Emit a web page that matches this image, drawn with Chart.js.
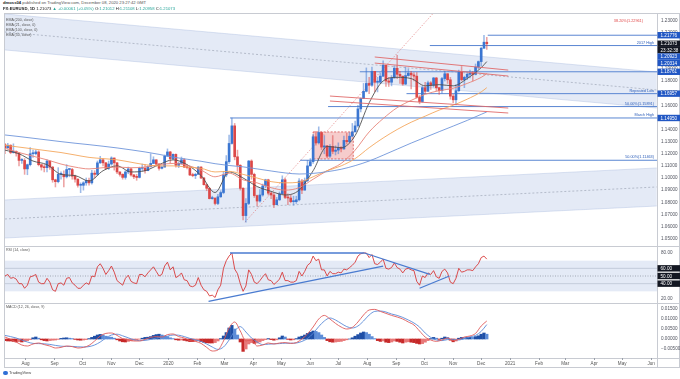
<!DOCTYPE html>
<html>
<head>
<meta charset="utf-8">
<title>EURUSD 1D</title>
<script src="https://cdn.jsdelivr.net/npm/chart.js@4.4.1/dist/chart.umd.min.js"></script>
<style>
html, body { margin: 0; padding: 0; background: #fff; }
body { position: relative; width: 680px; height: 379px; overflow: hidden; font-family: "Liberation Sans", Arial, sans-serif; }
canvas { position: absolute; left: 0; }
.txt { position: absolute; white-space: nowrap; line-height: 1; }
.ln { position: absolute; background: #c8cbd2; }
</style>
</head>
<body>
<div class="ln" style="left:4px;top:13px;width:676px;height:1px"></div>
<div class="ln" style="left:4px;top:13px;width:1px;height:355px"></div>
<div class="ln" style="left:4px;top:367px;width:676px;height:1px"></div>
<div class="ln" style="left:679px;top:13px;width:1px;height:355px"></div>
<div class="ln" style="left:5px;top:246px;width:675px;height:1px"></div>
<div class="ln" style="left:5px;top:303px;width:675px;height:1px"></div>
<div class="ln" style="left:5px;top:358px;width:675px;height:1px"></div>
<div class="ln" style="left:657px;top:14px;width:1px;height:353px"></div>

<canvas id="priceChart" width="680" height="232" style="top:14px"></canvas>
<canvas id="rsiChart" width="680" height="56" style="top:247px"></canvas>
<canvas id="macdChart" width="680" height="63" style="top:304px"></canvas>

<div class="txt" style="left:3px;top:1px;font-size:4.2px;color:#555"><b style="color:#222">dmoss04</b> published on TradingView.com, December 08, 2020 23:27:42 GMT</div>
<div class="txt" style="left:3px;top:7px;font-size:4.2px;color:#222"><b>FX:EURUSD, 1D</b> 1.21073 <span style="color:#26a69a">▲ +0.00061 (+0.05%)</span> O:<span style="color:#26a69a">1.21012</span> H:<span style="color:#26a69a">1.21108</span> L:<span style="color:#26a69a">1.20958</span> C:<span style="color:#26a69a">1.21073</span></div>
<div class="txt" style="left:6px;top:19px;font-size:3.6px;color:#555">EMA (200, close)</div>
<div class="txt" style="left:6px;top:24px;font-size:3.6px;color:#555">EMA (21, close, 0)</div>
<div class="txt" style="left:6px;top:29px;font-size:3.6px;color:#555">EMA (100, close, 0)</div>
<div class="txt" style="left:6px;top:34px;font-size:3.6px;color:#555">EMA (50, close)</div>
<div class="txt" style="left:6px;top:249px;font-size:3.6px;color:#555">RSI (14, close)</div>
<div class="txt" style="left:6px;top:306px;font-size:3.6px;color:#555">MACD (12, 26, close, 9)</div>
<div class="txt" style="left:3px;top:371px;font-size:4px;color:#444"><span style="display:inline-block;width:5px;height:4px;background:#2f6fd6;border-radius:2px;vertical-align:middle"></span> TradingView</div>

<script>
const FONT = '"Liberation Sans", Arial, sans-serif';

// time base: one unit on the x axis = one calendar day from Jul 10 2019
const startDay = Date.UTC(2019, 6, 10);
const dayOf = s => (Date.parse(s + 'T00:00:00Z') - startDay) / 86400000;
const candleStep = 3;   // days between candles
const macdStep = 6;     // days between MACD line points
const xMin = 0, xMax = 698.3;

const monthDates = ['2019-08-01','2019-09-01','2019-10-01','2019-11-01','2019-12-01','2020-01-01','2020-02-01','2020-03-01','2020-04-01','2020-05-01','2020-06-01','2020-07-01','2020-08-01','2020-09-01','2020-10-01','2020-11-01','2020-12-01','2021-01-01','2021-02-01','2021-03-01','2021-04-01','2021-05-01','2021-06-01'];
const monthLabels = ['Aug','Sep','Oct','Nov','Dec','2020','Feb','Mar','Apr','May','Jun','Jul','Aug','Sep','Oct','Nov','Dec','2021','Feb','Mar','Apr','May','Jun'];
const monthDays = monthDates.map(dayOf);

// EUR/USD candles
const firstOpen = 1.1275;
const closes = [1.1250,1.1270,1.1210,1.1220,1.1205,1.1145,1.1145,1.1075,1.1110,1.1200,
 1.1200,1.1215,1.1110,1.1090,1.1085,1.1140,1.1090,1.0985,1.0970,1.1030,
 1.1030,1.1010,1.1070,1.1070,1.1015,1.0990,1.0940,1.0940,1.0960,1.0980,
 1.0960,1.1040,1.1030,1.1125,1.1150,1.1125,1.1080,1.1115,1.1165,1.1125,
 1.1050,1.1030,1.1005,1.1050,1.1075,1.1025,1.1010,1.1005,1.1080,1.1080,
 1.1060,1.1095,1.1120,1.1150,1.1115,1.1080,1.1090,1.1180,1.1215,1.1160,
 1.1195,1.1105,1.1120,1.1150,1.1090,1.1085,1.1025,1.1020,1.1030,1.1090,
 1.1000,1.0945,1.0915,1.0830,1.0835,1.0790,1.0845,1.0880,1.1025,1.1135,
 1.1285,1.1430,1.1175,1.1105,1.0915,1.0690,1.0790,1.1140,1.1030,1.0855,
 1.0810,1.0860,1.0935,1.0985,1.0875,1.0860,1.0780,1.0820,1.0870,1.0985,
 1.0840,1.0835,1.0805,1.0805,1.0820,1.0975,1.0900,1.0980,1.1100,1.1135,
 1.1340,1.1290,1.1375,1.1255,1.1265,1.1180,1.1260,1.1220,1.1230,1.1250,
 1.1240,1.1310,1.1300,1.1345,1.1380,1.1430,1.1570,1.1655,1.1715,1.1780,
 1.1765,1.1880,1.1790,1.1790,1.1840,1.1930,1.1800,1.1790,1.1825,1.1905,
 1.1855,1.1840,1.1775,1.1845,1.1865,1.1850,1.1840,1.1665,1.1630,1.1745,
 1.1715,1.1785,1.1765,1.1825,1.1745,1.1720,1.1820,1.1860,1.1810,1.1675,
 1.1645,1.1720,1.1875,1.1810,1.1830,1.1855,1.1860,1.1855,1.1915,1.1960,
 1.2070,1.2120,1.2107];
const highs = [1.1285,1.1285,1.1275,1.1282,1.1225,1.1210,1.1160,1.1160,1.1115,1.1250,
 1.1230,1.1230,1.1225,1.1110,1.1110,1.1150,1.1140,1.1095,1.0990,1.1085,
 1.1050,1.1060,1.1110,1.1075,1.1080,1.1025,1.0995,1.0960,1.0970,1.1000,
 1.1000,1.1063,1.1060,1.1140,1.1179,1.1160,1.1130,1.1140,1.1175,1.1165,
 1.1130,1.1050,1.1035,1.1060,1.1090,1.1080,1.1030,1.1030,1.1090,1.1115,
 1.1110,1.1100,1.1200,1.1175,1.1150,1.1120,1.1100,1.1190,1.1240,1.1220,
 1.1200,1.1200,1.1130,1.1173,1.1160,1.1110,1.1090,1.1040,1.1040,1.1095,
 1.1095,1.1005,1.0945,1.0920,1.0850,1.0835,1.0865,1.0895,1.1055,1.1185,
 1.1355,1.1495,1.1450,1.1230,1.1110,1.0920,1.0830,1.1145,1.1150,1.1040,
 1.0860,1.0905,1.0950,1.0990,1.0990,1.0885,1.0880,1.0840,1.0885,1.1018,
 1.1000,1.0870,1.0860,1.0850,1.0850,1.0995,1.0990,1.1000,1.1145,1.1160,
 1.1360,1.1385,1.1422,1.1380,1.1350,1.1270,1.1275,1.1350,1.1265,1.1290,
 1.1260,1.1345,1.1370,1.1375,1.1450,1.1470,1.1600,1.1660,1.1780,1.1908,
 1.1830,1.1915,1.1880,1.1830,1.1865,1.1966,1.1930,1.1830,1.1845,1.1925,
 1.2011,1.1880,1.1840,1.1915,1.1900,1.1880,1.1870,1.1870,1.1680,1.1755,
 1.1790,1.1800,1.1795,1.1830,1.1830,1.1745,1.1830,1.1880,1.1860,1.1830,
 1.1690,1.1770,1.1890,1.1920,1.1840,1.1870,1.1890,1.1880,1.1940,1.1965,
 1.2080,1.2177,1.2160];
const lows = [1.1200,1.1240,1.1200,1.1205,1.1180,1.1100,1.1120,1.1030,1.1027,1.1100,
 1.1170,1.1190,1.1100,1.1065,1.1050,1.1050,1.1070,1.0965,1.0926,1.0960,
 1.0990,1.0927,1.1000,1.1010,1.0990,1.0965,1.0925,1.0879,1.0900,1.0940,
 1.0940,1.0950,1.1000,1.1020,1.1120,1.1100,1.1070,1.1070,1.1105,1.1065,
 1.1035,1.1015,1.0990,1.0990,1.1035,1.1015,1.0995,1.0981,1.1000,1.1060,
 1.1040,1.1060,1.1090,1.1120,1.1100,1.1065,1.1075,1.1090,1.1180,1.1125,
 1.1150,1.1090,1.1085,1.1115,1.1085,1.1075,1.1020,1.1010,1.0995,1.1030,
 1.0995,1.0940,1.0895,1.0827,1.0825,1.0777,1.0780,1.0840,1.0870,1.1010,
 1.1120,1.1280,1.1150,1.1055,1.0900,1.0655,1.0636,1.0780,1.0990,1.0840,
 1.0770,1.0800,1.0850,1.0920,1.0860,1.0830,1.0755,1.0780,1.0815,1.0870,
 1.0830,1.0780,1.0795,1.0775,1.0790,1.0810,1.0870,1.0900,1.0970,1.1100,
 1.1120,1.1270,1.1280,1.1235,1.1200,1.1168,1.1170,1.1200,1.1190,1.1200,
 1.1215,1.1235,1.1280,1.1290,1.1340,1.1380,1.1420,1.1545,1.1655,1.1710,
 1.1695,1.1755,1.1710,1.1710,1.1780,1.1835,1.1755,1.1755,1.1760,1.1825,
 1.1820,1.1780,1.1765,1.1770,1.1840,1.1735,1.1800,1.1660,1.1612,1.1625,
 1.1695,1.1715,1.1730,1.1750,1.1720,1.1690,1.1700,1.1800,1.1780,1.1650,
 1.1622,1.1602,1.1710,1.1800,1.1745,1.1810,1.1825,1.1800,1.1850,1.1900,
 1.1925,1.2070,1.2060];

// moving averages, read at 15-day points
const emaDays = [0,15,30,45,60,75,90,105,120,135,150,165,180,195,210,225,240,255,270,285,300,315,330,345,360,375,390,405,420,435,450,465,480,495,510,516];
const ema200 = [1.1355,1.1342,1.1328,1.1314,1.1300,1.1287,1.1275,1.1262,1.1248,1.1232,1.1215,1.1195,1.1172,1.1155,1.1138,1.1118,1.1103,1.1092,1.1075,1.1058,1.1042,1.1033,1.1038,1.1052,1.1072,1.1102,1.1140,1.1188,1.1238,1.1288,1.1335,1.1382,1.1428,1.1475,1.1525,1.1545];
const ema100 = [1.1270,1.1255,1.1240,1.1225,1.1210,1.1190,1.1170,1.1160,1.1150,1.1130,1.1110,1.1100,1.1100,1.1090,1.1080,1.1050,1.1055,1.1030,1.1000,1.0970,1.0960,1.0965,1.1010,1.1060,1.1100,1.1160,1.1250,1.1330,1.1400,1.1460,1.1510,1.1560,1.1600,1.1650,1.1710,1.1745];
const ema50 = [1.1245,1.1210,1.1180,1.1150,1.1115,1.1090,1.1075,1.1085,1.1090,1.1085,1.1090,1.1110,1.1120,1.1105,1.1065,1.1010,1.1040,1.0985,1.0960,1.0920,1.0900,1.0920,1.0990,1.1060,1.1120,1.1230,1.1380,1.1490,1.1580,1.1640,1.1690,1.1720,1.1740,1.1780,1.1830,1.1860];
const ema21 = [1.1230,1.1200,1.1140,1.1110,1.1030,1.1020,1.0975,1.1060,1.1100,1.1050,1.1060,1.1110,1.1150,1.1110,1.1020,1.0880,1.1050,1.1000,1.0930,1.0890,1.0860,1.0900,1.1060,1.1260,1.1250,1.1350,1.1620,1.1800,1.1830,1.1820,1.1760,1.1770,1.1760,1.1820,1.1910,1.1960];

// RSI (14), one value per candle
const rsi = [50,52,47,48,46,40,40,34,38,49,
 50,52,42,40,40,47,42,32,30,40,
 41,38,47,48,41,38,34,34,38,41,
 39,50,49,62,66,60,52,57,63,55,
 44,41,38,47,51,43,41,40,52,52,
 49,54,58,62,56,50,52,63,68,58,
 62,48,50,54,45,44,37,36,38,48,
 38,32,30,24,25,22,32,38,60,70,
 76,80,59,53,40,30,37,58,52,42,
 40,44,49,53,45,44,39,42,46,55,
 44,44,42,42,44,56,50,56,64,67,
 76,70,72,58,58,50,56,53,53,55,
 54,59,58,61,64,68,76,79,80,80,
 74,78,66,65,68,72,60,59,61,67,
 61,59,54,59,60,58,57,43,38,50,
 48,54,52,57,49,47,56,59,54,42,
 40,47,60,55,56,58,58,57,62,66,
 74,76,72];

// MACD (12, 26, 9): lines every 6 days, histogram per candle
const macdLine = [0.0010,-0.0002,-0.0015,-0.0030,-0.0035,-0.0025,-0.0020,-0.0028,-0.0035,-0.0045,
 -0.0042,-0.0035,-0.0038,-0.0045,-0.0042,-0.0032,-0.0010,0.0015,0.0028,0.0030,
 0.0018,0.0002,-0.0005,-0.0010,-0.0010,-0.0002,0.0008,0.0012,0.0010,0.0022,
 0.0025,0.0012,0.0005,-0.0008,-0.0012,-0.0022,-0.0042,-0.0060,-0.0055,-0.0010,
 0.0055,0.0085,0.0040,-0.0010,-0.0005,-0.0035,-0.0030,-0.0020,-0.0025,-0.0020,
 -0.0018,-0.0022,-0.0018,0.0000,0.0025,0.0060,0.0100,0.0118,0.0100,0.0078,
 0.0060,0.0050,0.0058,0.0085,0.0120,0.0145,0.0148,0.0138,0.0128,0.0118,
 0.0110,0.0100,0.0085,0.0070,0.0040,0.0010,-0.0005,-0.0012,-0.0005,0.0005,
 -0.0008,-0.0002,0.0010,0.0015,0.0028,0.0065,0.0090];
const signalLine = [0.0018,0.0012,0.0005,-0.0005,-0.0015,-0.0022,-0.0023,-0.0024,-0.0027,-0.0032,
 -0.0036,-0.0037,-0.0037,-0.0039,-0.0040,-0.0038,-0.0030,-0.0015,0.0005,0.0020,
 0.0024,0.0016,0.0006,-0.0004,-0.0008,-0.0007,-0.0002,0.0005,0.0009,0.0014,
 0.0020,0.0019,0.0012,0.0003,-0.0005,-0.0012,-0.0025,-0.0040,-0.0052,-0.0040,
 -0.0005,0.0040,0.0062,0.0035,0.0005,-0.0015,-0.0028,-0.0026,-0.0024,-0.0023,
 -0.0021,-0.0021,-0.0020,-0.0012,0.0002,0.0028,0.0062,0.0090,0.0105,0.0095,
 0.0078,0.0062,0.0055,0.0065,0.0090,0.0120,0.0138,0.0140,0.0135,0.0125,
 0.0118,0.0108,0.0095,0.0080,0.0060,0.0030,0.0008,-0.0005,-0.0008,-0.0003,
 -0.0002,-0.0005,0.0002,0.0010,0.0018,0.0038,0.0072];
const macdHist = [-0.0008,-0.0010,-0.0010,-0.0012,-0.0015,-0.0013,-0.0015,-0.0012,-0.0008,-0.0003,
 0.0006,0.0010,0.0004,-0.0004,-0.0008,-0.0010,-0.0008,-0.0006,-0.0005,-0.0002,
 0.0003,0.0005,0.0006,0.0004,0.0002,-0.0002,-0.0005,-0.0006,-0.0005,-0.0003,
 0.0002,0.0008,0.0014,0.0020,0.0023,0.0020,0.0014,0.0010,0.0009,0.0004,
 -0.0004,-0.0010,-0.0014,-0.0015,-0.0012,-0.0009,-0.0006,-0.0004,-0.0001,0.0004,
 0.0008,0.0009,0.0012,0.0018,0.0022,0.0024,0.0020,0.0016,0.0012,0.0006,
 0.0002,-0.0004,-0.0006,-0.0005,-0.0007,-0.0010,-0.0013,-0.0013,-0.0011,-0.0008,
 -0.0013,-0.0017,-0.0019,-0.0020,-0.0020,-0.0018,-0.0010,0.0002,0.0015,0.0032,
 0.0055,0.0068,0.0050,0.0020,-0.0015,-0.0062,-0.0050,-0.0025,-0.0018,-0.0022,
 -0.0020,-0.0015,-0.0008,-0.0003,0.0002,-0.0003,-0.0006,-0.0004,0.0006,0.0015,
 0.0010,-0.0002,-0.0005,-0.0004,0.0002,0.0010,0.0014,0.0020,0.0028,0.0034,
 0.0040,0.0038,0.0032,0.0020,0.0008,-0.0008,-0.0014,-0.0016,-0.0015,-0.0013,
 -0.0012,-0.0008,-0.0004,0.0000,0.0006,0.0014,0.0022,0.0030,0.0035,0.0032,
 0.0024,0.0012,0.0002,-0.0008,-0.0012,-0.0010,-0.0016,-0.0018,-0.0015,-0.0010,
 -0.0012,-0.0016,-0.0020,-0.0016,-0.0014,-0.0016,-0.0018,-0.0022,-0.0025,-0.0023,
 -0.0016,-0.0008,0.0002,0.0008,0.0004,-0.0002,0.0004,0.0010,0.0008,-0.0006,
 -0.0014,-0.0010,0.0004,0.0008,0.0007,0.0008,0.0009,0.0008,0.0012,0.0016,
 0.0024,0.0030,0.0024];

// axis ticks
const priceTicks = [1.05,1.06,1.07,1.08,1.09,1.10,1.11,1.12,1.13,1.14,1.15,1.16,1.17,1.18,1.19,1.20,1.21,1.22,1.23];
const rsiTicks = [20, 40, 60, 80];
const macdTicks = [-0.005, 0, 0.005, 0.01, 0.015];

// drawings on the price pane (day, price)
const upperChannel = { top: [0, 1.2353, 698, 1.1874], bottom: [0, 1.2056, 698, 1.1577], mid: [0, 1.2204, 698, 1.1726] };
const lowerChannel = { top: [0, 1.0819, 698, 1.1083], bottom: [0, 1.0505, 698, 1.0769], mid: [0, 1.0662, 698, 1.0926] };
const levels = [
  { value: 1.21776, from: 517, text: '' },
  { value: 1.20923, from: 455, text: '2017 High' },
  { value: 1.18761, from: 380, text: '' },
  { value: 1.16957, from: 430, text: 'Repeated Low' },
  { value: 1.15891, from: 346, text: '50.00%(1.15891)' },
  { value: 1.14950, from: 241, text: 'March High' },
  { value: 1.11463, from: 316, text: '50.00%(1.11463)' }
];
const fibTarget = { value: 1.22961, text: '38.20%(1.22961)' };
const rangeBox = [330, 373, 1.1157, 1.1380];
const fibDiagonal = [257, 1.0636, 458, 1.2353];
const flagLines = [[396, 1.1998, 539, 1.1890], [396, 1.1948, 539, 1.1841], [348, 1.1676, 539, 1.1577], [348, 1.1635, 539, 1.1536]];
const badgeValues = [1.21776, 1.20923, 1.20314, 1.18761, 1.16957, 1.14950];
const lastPrice = 1.21073;
const countdown = '23:32:38';

// drawings on the RSI pane (day, rsi)
const rsiBand = [30, 70];
const rsiLevels = [60, 50, 40];
const rsiTrendlines = [[241, 80, 385, 80], [385, 80, 455, 52], [218, 17, 405, 63], [444, 34, 476, 50]];

const blue = '#3b76d1', red = '#dc4848';
const badgeBlue = '#2157c4', badgeBlack = '#131722';

function xScale(show) {
  return {
    type: 'linear', min: xMin, max: xMax, offset: false, display: show,
    grid: { display: show, offset: false, drawOnChartArea: false, drawTicks: true, tickLength: 2, color: '#9aa0aa' },
    border: { display: false },
    ticks: {
      autoSkip: false, maxRotation: 0, padding: 1, color: '#555',
      font: { size: 4.6, family: FONT },
      callback: v => { const k = monthDays.indexOf(v); return k >= 0 ? monthLabels[k] : ''; }
    },
    afterBuildTicks: s => { s.ticks = monthDays.map(v => ({ value: v })); },
    afterFit: s => {
      if (show) s.height = 9;
      s.paddingLeft = 0; s.paddingRight = 0;
    }
  };
}

function yScale(min, max, ticks, fmt) {
  return {
    type: 'linear', position: 'right', min: min, max: max,
    grid: { display: false, drawTicks: false }, border: { display: false },
    ticks: { autoSkip: false, padding: 4, color: '#50535e', font: { size: 4.6, family: FONT }, callback: fmt },
    afterBuildTicks: s => { s.ticks = ticks.map(v => ({ value: v })); },
    afterFit: s => { s.width = 23; s.paddingTop = 0; s.paddingBottom = 0; }
  };
}

function baseOptions(scales) {
  return {
    responsive: false, animation: false, devicePixelRatio: 1, events: [],
    layout: { padding: { left: 5, right: 0, top: 0, bottom: 0 } },
    plugins: { legend: { display: false }, tooltip: { enabled: false } },
    scales: scales
  };
}

function drawBadges(ctx, area, items) {
  const h = 6.4;
  let prev = -Infinity;
  items.sort((a, b) => a.y - b.y).forEach(it => {
    const yy = Math.max(it.y, prev + h);
    prev = yy;
    ctx.fillStyle = it.bg;
    ctx.fillRect(area.right + 0.5, yy - h / 2, 680 - area.right, h);
    ctx.fillStyle = '#fff';
    ctx.font = '4.6px ' + FONT;
    ctx.textAlign = 'left';
    ctx.textBaseline = 'middle';
    ctx.fillText(it.text, area.right + 3.5, yy + 0.3);
  });
}

function segment(ctx, x, y, s) {
  ctx.beginPath();
  ctx.moveTo(x.getPixelForValue(s[0]), y.getPixelForValue(s[1]));
  ctx.lineTo(x.getPixelForValue(s[2]), y.getPixelForValue(s[3]));
  ctx.stroke();
}

const priceDecor = {
  id: 'priceDecor',
  beforeDatasetsDraw(chart) {
    const { ctx, chartArea: a, scales: { x, y } } = chart;
    ctx.save();
    ctx.beginPath(); ctx.rect(a.left, a.top, a.right - a.left, a.bottom - a.top); ctx.clip();
    [upperChannel, lowerChannel].forEach(ch => {
      ctx.beginPath();
      ctx.moveTo(x.getPixelForValue(ch.top[0]), y.getPixelForValue(ch.top[1]));
      ctx.lineTo(x.getPixelForValue(ch.top[2]), y.getPixelForValue(ch.top[3]));
      ctx.lineTo(x.getPixelForValue(ch.bottom[2]), y.getPixelForValue(ch.bottom[3]));
      ctx.lineTo(x.getPixelForValue(ch.bottom[0]), y.getPixelForValue(ch.bottom[1]));
      ctx.closePath();
      ctx.fillStyle = 'rgba(190, 206, 234, 0.42)';
      ctx.fill();
      ctx.strokeStyle = 'rgba(150, 172, 215, 0.55)';
      ctx.lineWidth = 0.6;
      segment(ctx, x, y, ch.top);
      segment(ctx, x, y, ch.bottom);
      ctx.setLineDash([2, 2]);
      ctx.strokeStyle = 'rgba(110, 120, 140, 0.7)';
      segment(ctx, x, y, ch.mid);
      ctx.setLineDash([]);
    });
    // consolidation box
    const bx0 = x.getPixelForValue(rangeBox[0]), bx1 = x.getPixelForValue(rangeBox[1]);
    const by0 = y.getPixelForValue(rangeBox[3]), by1 = y.getPixelForValue(rangeBox[2]);
    ctx.fillStyle = 'rgba(228, 110, 110, 0.35)';
    ctx.fillRect(bx0, by0, bx1 - bx0, by1 - by0);
    ctx.setLineDash([2, 1.5]);
    ctx.strokeStyle = '#d85050';
    ctx.lineWidth = 0.8;
    ctx.strokeRect(bx0, by0, bx1 - bx0, by1 - by0);
    // fib diagonal
    ctx.setLineDash([1.5, 1.5]);
    ctx.strokeStyle = 'rgba(220, 100, 100, 0.8)';
    ctx.lineWidth = 0.7;
    segment(ctx, x, y, fibDiagonal);
    ctx.setLineDash([]);
    // horizontal levels
    ctx.strokeStyle = '#5a86d2';
    ctx.lineWidth = 1;
    levels.forEach(l => segment(ctx, x, y, [l.from, l.value, xMax, l.value]));
    ctx.restore();
  },
  afterDatasetsDraw(chart) {
    const { ctx, chartArea: a, scales: { x, y } } = chart;
    ctx.save();
    ctx.beginPath(); ctx.rect(a.left, a.top, a.right - a.left, a.bottom - a.top); ctx.clip();
    ctx.strokeStyle = '#e06a6a';
    ctx.lineWidth = 0.9;
    flagLines.forEach(s => segment(ctx, x, y, s));
    ctx.font = '3.8px ' + FONT;
    ctx.textAlign = 'right';
    ctx.textBaseline = 'bottom';
    ctx.fillStyle = '#2a5cb8';
    levels.forEach(l => { if (l.text) ctx.fillText(l.text, a.right - 3, y.getPixelForValue(l.value) - 1); });
    ctx.fillStyle = '#e04848';
    ctx.fillText(fibTarget.text, a.right - 14, y.getPixelForValue(fibTarget.value) + 2);
    ctx.restore();
  },
  afterDraw(chart) {
    const { ctx, chartArea: a, scales: { y } } = chart;
    ctx.save();
    const items = badgeValues.map(v => ({ y: y.getPixelForValue(v), bg: badgeBlue, text: v.toFixed(5) }));
    const ly = y.getPixelForValue(lastPrice);
    items.push({ y: ly, bg: badgeBlack, text: lastPrice.toFixed(5) });
    items.push({ y: ly + 0.01, bg: badgeBlack, text: countdown });
    drawBadges(ctx, a, items);
    ctx.restore();
  }
};

const rsiDecor = {
  id: 'rsiDecor',
  beforeDatasetsDraw(chart) {
    const { ctx, chartArea: a, scales: { x, y } } = chart;
    ctx.save();
    const y70 = y.getPixelForValue(rsiBand[1]), y30 = y.getPixelForValue(rsiBand[0]);
    ctx.fillStyle = 'rgba(190, 206, 234, 0.42)';
    ctx.fillRect(a.left, y70, a.right - a.left, y30 - y70);
    ctx.lineWidth = 0.7;
    rsiLevels.forEach(v => {
      ctx.strokeStyle = v === 50 ? 'rgba(110,115,130,0.8)' : 'rgba(150,160,180,0.6)';
      ctx.setLineDash(v === 50 ? [1, 1.5] : []);
      segment(ctx, x, y, [xMin, v, xMax, v]);
    });
    ctx.setLineDash([]);
    ctx.restore();
  },
  afterDatasetsDraw(chart) {
    const { ctx, chartArea: a, scales: { x, y } } = chart;
    ctx.save();
    ctx.beginPath(); ctx.rect(a.left, a.top, a.right - a.left, a.bottom - a.top); ctx.clip();
    ctx.strokeStyle = '#4a7bd0';
    ctx.lineWidth = 1.3;
    rsiTrendlines.forEach(s => segment(ctx, x, y, s));
    ctx.restore();
  },
  afterDraw(chart) {
    const { ctx, chartArea: a, scales: { y } } = chart;
    ctx.save();
    drawBadges(ctx, a, rsiLevels.map(v => ({ y: y.getPixelForValue(v), bg: badgeBlack, text: v.toFixed(2) })));
    ctx.restore();
  }
};

// price pane
const candles = closes.map((c, i) => ({ x: i * candleStep, o: i ? closes[i - 1] : firstOpen, h: highs[i], l: lows[i], c: c }));
const emaSet = (vals, color) => ({
  type: 'line', data: emaDays.map((d, i) => ({ x: d, y: vals[i] })),
  borderColor: color, borderWidth: 0.9, pointRadius: 0, cubicInterpolationMode: 'monotone', order: -1
});

new Chart(document.getElementById('priceChart'), {
  type: 'bar',
  data: {
    datasets: [
      {
        data: candles.map(k => ({ x: k.x, y: [Math.min(k.l, k.o, k.c), Math.max(k.h, k.o, k.c)] })),
        backgroundColor: candles.map(k => k.c >= k.o ? 'rgba(59,118,209,0.5)' : 'rgba(220,72,72,0.5)'),
        barThickness: 0.9, grouped: false, order: 2
      },
      {
        data: candles.map(k => ({ x: k.x, y: [k.o, k.c] })),
        backgroundColor: candles.map(k => k.c >= k.o ? blue : red),
        barThickness: 2, minBarLength: 1, grouped: false, order: 1
      },
      emaSet(ema200, '#6f95da'),
      emaSet(ema100, '#f4a75e'),
      emaSet(ema50, '#e88579'),
      emaSet(ema21, '#505050')
    ]
  },
  options: baseOptions({
    x: xScale(false),
    y: yScale(1.04392, 1.23526, priceTicks, v => v.toFixed(5))
  }),
  plugins: [priceDecor]
});

// RSI pane
new Chart(document.getElementById('rsiChart'), {
  type: 'line',
  data: {
    datasets: [{
      data: rsi.map((v, i) => ({ x: i * candleStep, y: v })),
      borderColor: '#d83a3a', borderWidth: 0.9, pointRadius: 0, tension: 0
    }]
  },
  options: baseOptions({
    x: xScale(false),
    y: yScale(14.78, 87.83, rsiTicks, v => v.toFixed(2))
  }),
  plugins: [rsiDecor]
});

// MACD pane
const histColors = macdHist.map((v, i) => {
  const p = i ? macdHist[i - 1] : 0;
  if (v >= 0) return v >= p ? '#1f4fa6' : '#5d8dd8';
  return v <= p ? '#c62828' : '#e87878';
});

new Chart(document.getElementById('macdChart'), {
  type: 'bar',
  data: {
    datasets: [
      {
        data: macdHist.map((v, i) => ({ x: i * candleStep, y: v })),
        backgroundColor: histColors, barThickness: 2.6, grouped: false, order: 3
      },
      {
        type: 'line', data: macdLine.map((v, i) => ({ x: i * macdStep, y: v })),
        borderColor: '#e05a5a', borderWidth: 0.9, pointRadius: 0, cubicInterpolationMode: 'monotone', order: 1
      },
      {
        type: 'line', data: signalLine.map((v, i) => ({ x: i * macdStep, y: v })),
        borderColor: '#5a8ad8', borderWidth: 0.9, pointRadius: 0, cubicInterpolationMode: 'monotone', order: 2
      }
    ]
  },
  options: baseOptions({
    x: xScale(true),
    y: yScale(-0.0095, 0.0175, macdTicks, v => (v < 0 ? '\u2212' : '') + Math.abs(v).toFixed(5))
  })
});
</script>
</body>
</html>
